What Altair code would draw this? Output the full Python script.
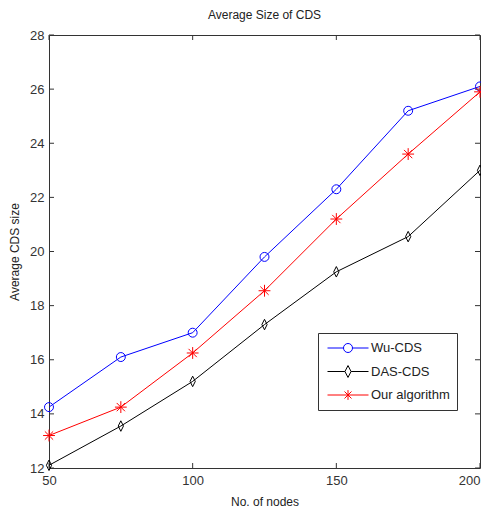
import altair as alt
import pandas as pd

nodes = [50, 75, 100, 125, 150, 175, 200]
wu_cds = [14.25, 16.1, 17.0, 19.8, 22.3, 25.2, 26.1]
das_cds = [12.1, 13.55, 15.2, 17.3, 19.25, 20.55, 23.0]
our_alg = [13.2, 14.25, 16.25, 18.55, 21.2, 23.6, 25.9]
series_names = ["Wu-CDS", "DAS-CDS", "Our algorithm"]
series_colors = ["#0000ff", "#000000", "#ff0000"]
x_ticks = [50, 100, 150, 200]
y_ticks = [12, 14, 16, 18, 20, 22, 24, 26, 28]

rows = []
for name, vals in zip(series_names, [wu_cds, das_cds, our_alg]):
    for n, v in zip(nodes, vals):
        rows.append({"nodes": n, "size": v, "series": name})
df = pd.DataFrame(rows)

FONT = "Liberation Sans, Arial, sans-serif"
W, H = 431, 433

# marker paths (unit coordinates)
circle = "circle"
diamond = "M0,-1L0.5,0L0,1L-0.5,0Z"
aster = "M-1,0L1,0M0,-1L0,1M-0.7,-0.7L0.7,0.7M-0.7,0.7L0.7,-0.7"

# legend symbols: line with marker in the middle
leg_circle = ("M-1,0L-0.22,0M0.22,0L1,0M0.22,0A0.22,0.22 0 1,1 -0.22,0"
              "A0.22,0.22 0 1,1 0.22,0")
leg_diamond = "M-1,0L-0.15,0M0.15,0L1,0M0,-0.29L0.15,0L0,0.29L-0.15,0Z"
leg_aster = ("M-1,0L1,0M0,-0.24L0,0.24M-0.17,-0.17L0.17,0.17"
             "M-0.17,0.17L0.17,-0.17")

xs = alt.Scale(domain=[50, 200], nice=False, zero=False)
ys = alt.Scale(domain=[12, 28], nice=False, zero=False)
cs = alt.Scale(domain=series_names, range=series_colors)

x_enc = alt.X("nodes:Q", scale=xs,
              axis=alt.Axis(values=x_ticks, title="No. of nodes", ticks=False,
                            domain=False, grid=False, labelPadding=6,
                            titlePadding=9, labelFlush=False,
                            labelAlign=alt.expr(
                                "datum.value >= 200 ? 'right' : 'center'")))
y_enc = alt.Y("size:Q", scale=ys,
              axis=alt.Axis(values=y_ticks, title="Average CDS size",
                            ticks=False, domain=False, grid=False,
                            labelPadding=5, titlePadding=8))

lines = alt.Chart(df).mark_line(strokeWidth=1).encode(
    x=x_enc, y=y_enc,
    color=alt.Color("series:N", scale=cs, legend=None),
    detail="series:N",
)

points = alt.Chart(df).mark_point(filled=False, strokeWidth=1, opacity=1).encode(
    x=alt.X("nodes:Q", scale=xs),
    y=alt.Y("size:Q", scale=ys),
    color=alt.Color("series:N", scale=cs, legend=None),
    shape=alt.Shape("series:N",
                    scale=alt.Scale(domain=series_names,
                                    range=[circle, diamond, aster]),
                    legend=None),
    size=alt.Size("series:N",
                  scale=alt.Scale(domain=series_names, range=[80, 140, 110]),
                  legend=None),
)

legend_layer = alt.Chart(df).mark_point(filled=False, opacity=0).encode(
    x=alt.X("nodes:Q", scale=xs),
    y=alt.Y("size:Q", scale=ys),
    color=alt.Color("series:N", scale=alt.Scale(domain=series_names,
                                                range=series_colors),
                    legend=alt.Legend(title=None)),
    shape=alt.Shape("series:N",
                    scale=alt.Scale(domain=series_names,
                                    range=[leg_circle, leg_diamond, leg_aster]),
                    legend=alt.Legend(title=None)),
)

xt = pd.DataFrame({"t": x_ticks})
yt = pd.DataFrame({"t": y_ticks})
tick_color = "#333333"
xb = alt.Chart(xt).mark_rule(color=tick_color, strokeWidth=1).encode(
    x=alt.X("t:Q", scale=xs), y=alt.value(H), y2=alt.value(H - 5))
xtop = alt.Chart(xt).mark_rule(color=tick_color, strokeWidth=1).encode(
    x=alt.X("t:Q", scale=xs), y=alt.value(0), y2=alt.value(5))
yl = alt.Chart(yt).mark_rule(color=tick_color, strokeWidth=1).encode(
    y=alt.Y("t:Q", scale=ys), x=alt.value(0), x2=alt.value(5))
yr = alt.Chart(yt).mark_rule(color=tick_color, strokeWidth=1).encode(
    y=alt.Y("t:Q", scale=ys), x=alt.value(W), x2=alt.value(W - 5))

chart = alt.layer(xb, xtop, yl, yr, lines, points, legend_layer).resolve_scale(
    color="independent", shape="independent"
).properties(
    width=W, height=H,
    title=alt.Title("Average Size of CDS", font=FONT, fontSize=12,
                    fontWeight="normal", color="#222222", offset=7),
    autosize=alt.AutoSizeParams(type="none"),
    padding={"left": 41, "top": 27, "right": 1, "bottom": 47},
    background="white",
).configure_view(
    stroke=tick_color, strokeWidth=1
).configure_axis(
    labelFont=FONT, titleFont=FONT, labelFontSize=13, titleFontSize=12,
    labelColor="#333333", titleColor="#222222", titleFontWeight="normal",
).configure_legend(
    orient="none", legendX=269, legendY=298,
    strokeColor="#333333", fillColor="white", padding=7, cornerRadius=0,
    symbolSize=1681, symbolStrokeWidth=1, symbolOpacity=1,
    clipHeight=16, rowPadding=7.5, labelOffset=2, symbolOffset=2,
    labelFont=FONT, labelFontSize=13, labelColor="#222222",
)

chart.save("out.html", embed_options={"renderer": "svg", "actions": False})
